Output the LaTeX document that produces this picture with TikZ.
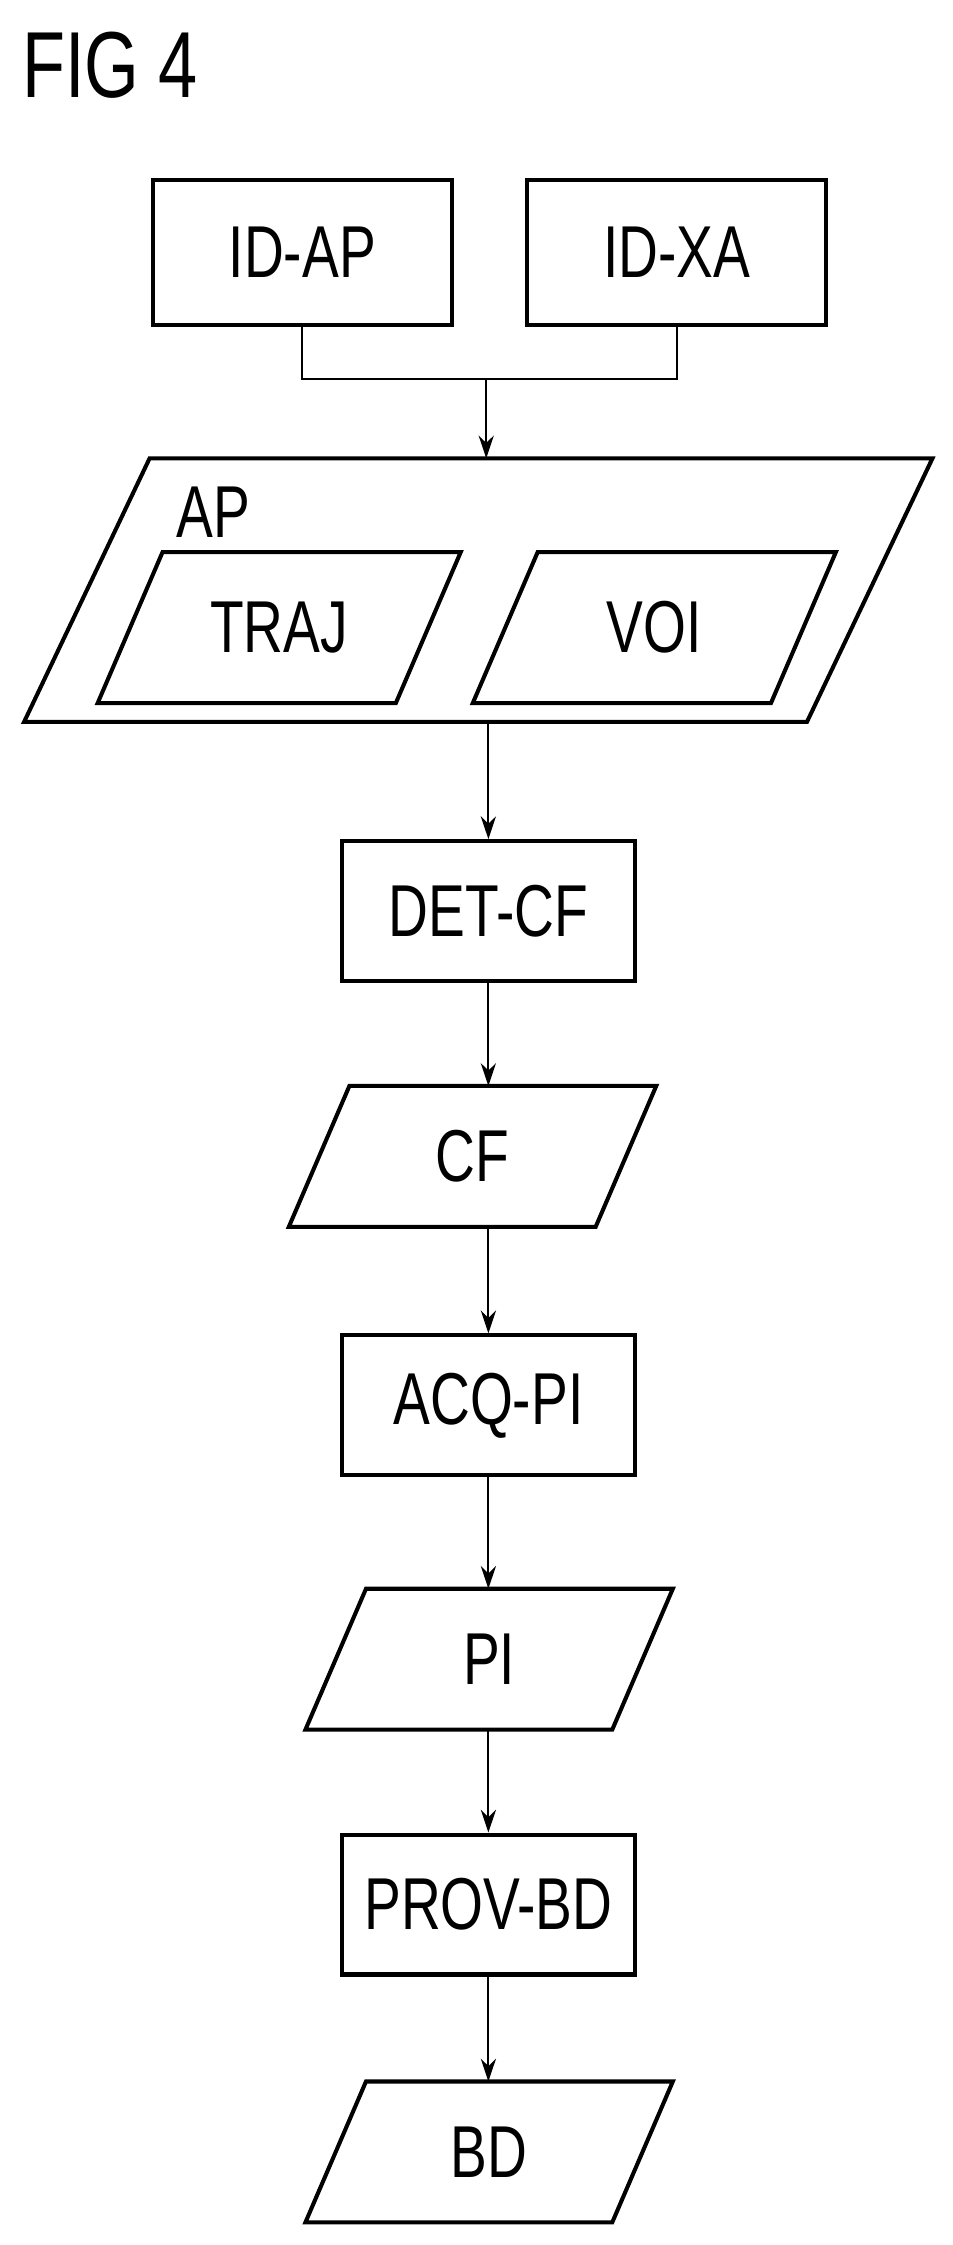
\documentclass[tikz,border=0pt]{standalone}
\usepackage{fontspec}
\setmainfont{Liberation Sans}[FakeStretch=0.75]
\usepackage{tikz}
\usetikzlibrary{arrows.meta, positioning}

% slanted outline around a named node, #2 = half the slant
\newcommand{\slantbox}[2]{%
  \draw[line width=1.6pt] ([xshift=#2]#1.north west) -- ([xshift=#2]#1.north east)
    -- ([xshift=-#2]#1.south east) -- ([xshift=-#2]#1.south west) -- cycle;}

\begin{document}
\begin{tikzpicture}[x=0.02cm, y=-0.02cm,
    box/.style={rectangle, draw, line width=1.6pt, minimum width=4.06cm, minimum height=1.94cm, font=\fontsize{29}{32}\selectfont, inner sep=0pt},
    data/.style={rectangle, minimum width=4.24cm, minimum height=1.94cm, font=\fontsize{29}{32}\selectfont, inner sep=0pt},
    arrow/.style={-{Stealth[length=9pt, width=6pt]}, line width=0.8pt}
]
\useasboundingbox (0,0) rectangle (660,1556);

\node[anchor=north west, font=\fontsize{37}{40}\selectfont, inner sep=0pt] (fig) at (15,22) {FIG 4};

\node[box, minimum width=4.14cm, minimum height=2.0cm] (idap) at (209.5,175) {ID-AP};
\node[box, minimum width=4.14cm, minimum height=2.0cm] (idxa) at (469,175) {ID-XA};

\node[data, minimum width=10.84cm, minimum height=3.64cm] (ap) at (331.5,409) {};
\node[font=\fontsize{29}{32}\selectfont, inner sep=0pt] (aplabel) at (148,355) {AP};
\node[data, minimum width=4.12cm, minimum height=2.08cm] (traj) at (193.5,435) {TRAJ};
\node[data, minimum width=4.12cm, minimum height=2.08cm] (voi) at (453.5,435) {VOI};
\slantbox{ap}{0.87cm}
\slantbox{traj}{0.45cm}
\slantbox{voi}{0.45cm}

\node[box] (detcf) at (338.5,631.5) {DET-CF};
\node[data] (cf) at (327.5,801.5) {CF};
\node[box] (acqpi) at (338.5,974) {ACQ-PI};
\node[data] (pi) at (339,1150) {PI};
\node[box] (provbd) at (338.5,1320) {PROV-BD};
\node[data] (bd) at (339,1491.5) {BD};
\slantbox{cf}{0.42cm}
\slantbox{pi}{0.42cm}
\slantbox{bd}{0.42cm}

\coordinate (join) at (337,263);
\draw[line width=0.8pt] (idap.south) |- (join) -| (idxa.south);
\draw[arrow] (join) -- (join |- ap.north);
\draw[arrow] (ap.south -| detcf.north) -- (detcf.north);
\draw[arrow] (detcf.south) -- (detcf.south |- cf.north);
\draw[arrow] (cf.south -| acqpi.north) -- (acqpi.north);
\draw[arrow] (acqpi.south) -- (acqpi.south |- pi.north);
\draw[arrow] (pi.south -| provbd.north) -- (provbd.north);
\draw[arrow] (provbd.south) -- (provbd.south |- bd.north);

\end{tikzpicture}
\end{document}
